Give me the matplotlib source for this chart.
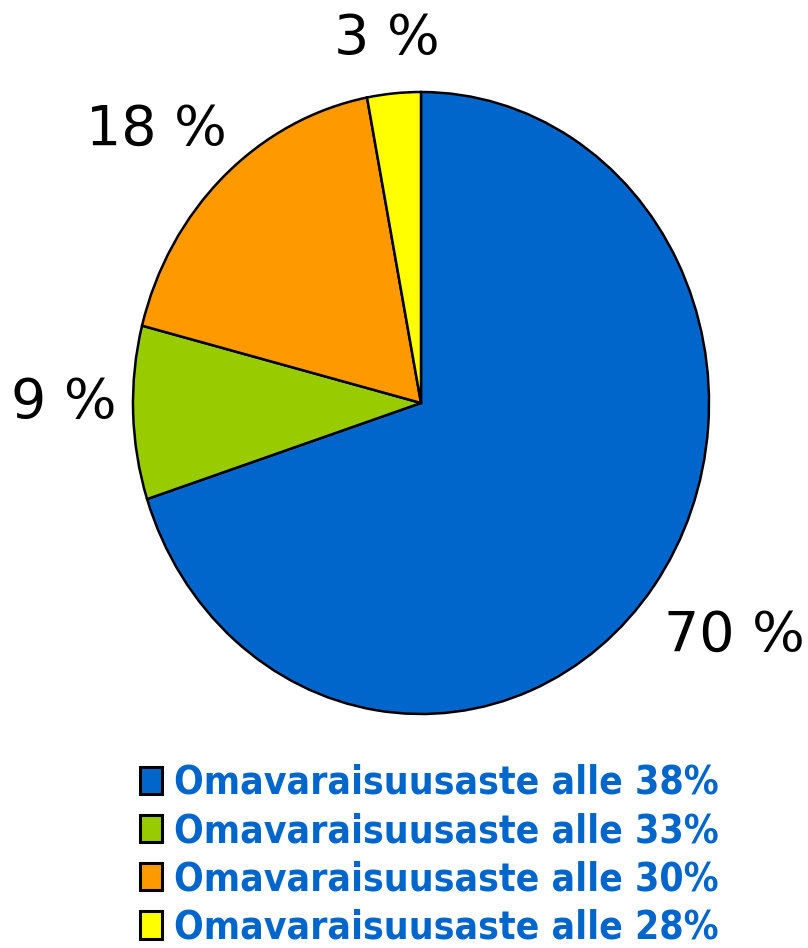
import matplotlib
matplotlib.use("Agg")
import matplotlib.pyplot as plt
from matplotlib import font_manager

# ============================================================
# DATA
# ============================================================
osuudet = [70, 9, 18, 3]
luokat = ["Omavaraisuusaste alle 38%", "Omavaraisuusaste alle 33%",
          "Omavaraisuusaste alle 30%", "Omavaraisuusaste alle 28%"]
etiketit = ["70 %", "9 %", "18 %", "3 %"]
varit = ["#0066CC", "#99CC00", "#FF9900", "#FFFF00"]

# label centres, in axes data units (pie radius = 1)
etiketti_paikat = [(1.09, -0.75), (-1.24, 0.0), (-0.92, 0.88), (-0.12, 1.17)]

# condensed bold face if it exists
nimet = [f.name + "|" + str(f.stretch) for f in font_manager.fontManager.ttflist]
if any("DejaVu Sans|condensed" in n or "semi-condensed" in n for n in nimet):
    leg_font = dict(family="DejaVu Sans", stretch="condensed", weight="bold", size=28)
else:
    leg_font = dict(family="DejaVu Sans", weight="bold", size=24)

fig = plt.figure(figsize=(8.08, 9.48), dpi=100)
W, H = 808, 948
# pie ellipse bounds in pixels
ax = fig.add_axes([133 / W, (H - 714) / H, 576 / W, 622 / H])

wedges, tekstit = ax.pie(osuudet, labels=etiketit, colors=varit, startangle=90,
                         counterclock=False, labeldistance=1.1,
                         wedgeprops=dict(edgecolor="black", linewidth=1.8),
                         textprops=dict(fontsize=40, color="black", family="DejaVu Sans"))
for t, p in zip(tekstit, etiketti_paikat):
    t.set_position(p)
    t.set_ha("center")
    t.set_va("center")

ax.set_aspect("auto")
ax.set_xlim(-1.0, 1.0)
ax.set_ylim(-1.0, 1.0)
ax.axis("off")

leg = fig.legend(wedges, luokat, loc="upper left", bbox_to_anchor=(140 / W, 1 - 764 / H),
                 frameon=False, prop=leg_font, handlelength=0.57, handleheight=0.72,
                 handletextpad=0.3, labelspacing=0.26, borderpad=0, borderaxespad=0)
for t in leg.get_texts():
    t.set_color("#0066CC")
for h in leg.legend_handles:
    h.set_linewidth(2.2)

fig.savefig("out.png", dpi=100)
